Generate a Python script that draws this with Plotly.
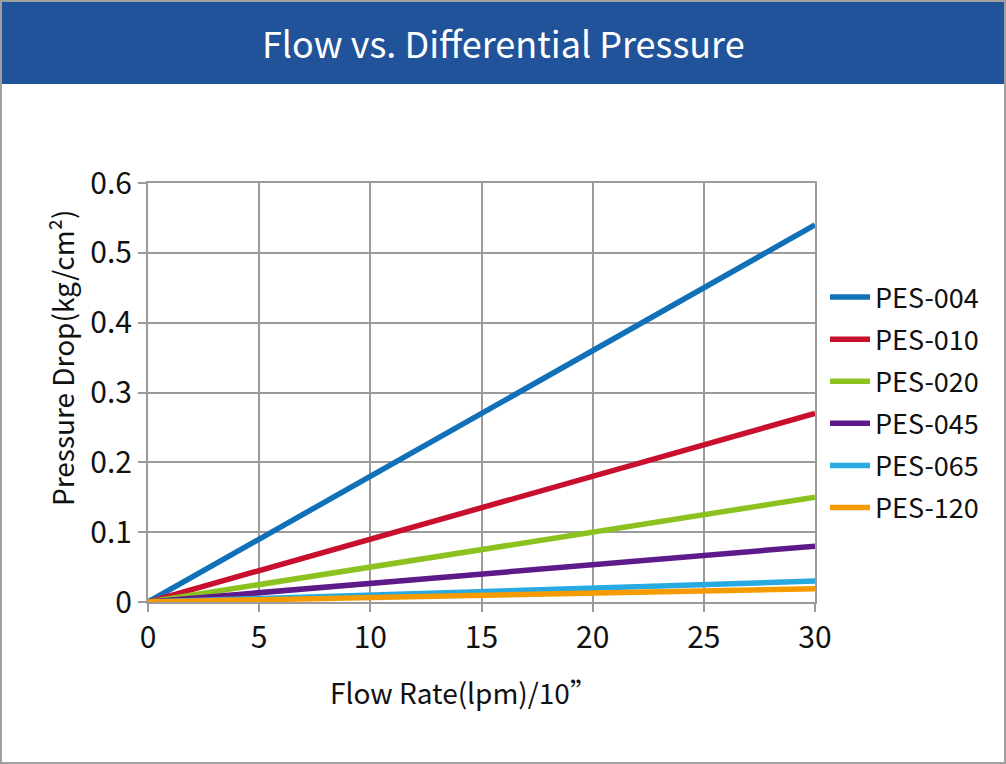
import plotly.graph_objects as go

# ---- data ----
flow = [0, 30]
series_names = ["PES-004", "PES-010", "PES-020", "PES-045", "PES-065", "PES-120"]
pes_004 = [0, 0.54]
pes_010 = [0, 0.27]
pes_020 = [0, 0.15]
pes_045 = [0, 0.08]
pes_065 = [0, 0.03]
pes_120 = [0, 0.019]
series_values = [pes_004, pes_010, pes_020, pes_045, pes_065, pes_120]
colors = ["#1070B8", "#C8102E", "#8CC21F", "#5F1A8A", "#27AAE1", "#F59B00"]
x_ticks = [0, 5, 10, 15, 20, 25, 30]
y_ticks = [0, 0.1, 0.2, 0.3, 0.4, 0.5, 0.6]
y_ticklabels = ["0", "0.1", "0.2", "0.3", "0.4", "0.5", "0.6"]

W, H = 1006, 764
L, R, T, B = 148, 815, 183, 602
FONT = "Noto Sans CJK TC"
GRID = "#9B9B9B"


def px2x(px):
    return (px - L) / (R - L)


def px2y(py):
    return (B - py) / (B - T)


fig = go.Figure()
for name, vals, col in zip(series_names, series_values, colors):
    fig.add_trace(go.Scatter(x=flow, y=vals, mode="lines", name=name,
                             legendgroup=name,
                             line=dict(color=col, width=5.5)))

axis_common = dict(showgrid=True, gridcolor=GRID, gridwidth=2,
                   showline=True, linecolor=GRID, linewidth=2, mirror=True,
                   ticks="outside", ticklen=8, tickwidth=2, tickcolor=GRID,
                   zeroline=False, tickfont=dict(family=FONT, size=30, color="#111111"))

fig.update_layout(
    width=W, height=H,
    margin=dict(l=L, r=W - R, t=T, b=H - B, pad=0),
    paper_bgcolor="white", plot_bgcolor="white",
    font=dict(family=FONT, color="#111111"),
    xaxis=dict(range=[0, 30], tickvals=x_ticks, **axis_common),
    yaxis=dict(range=[0, 0.6], tickvals=y_ticks, ticktext=y_ticklabels, **axis_common),
    legend=dict(x=px2x(825), y=px2y(273), xanchor="left", yanchor="top",
                font=dict(family=FONT, size=27, color="#111111"),
                bgcolor="rgba(0,0,0,0)", traceorder="grouped",
                tracegroupgap=4, itemwidth=40),
    shapes=[
        dict(type="rect", xref="paper", yref="paper",
             x0=px2x(0), x1=px2x(W), y0=px2y(84), y1=px2y(0),
             fillcolor="#21539A", line=dict(width=0), layer="below"),
        dict(type="rect", xref="paper", yref="paper",
             x0=px2x(1), x1=px2x(W - 1), y0=px2y(H - 1), y1=px2y(1),
             fillcolor="rgba(0,0,0,0)", line=dict(color="#A0A0A0", width=2)),
    ],
    annotations=[
        dict(text="Flow vs. Differential Pressure", xref="paper", yref="paper",
             x=px2x(503), y=px2y(42), showarrow=False, xanchor="center", yanchor="middle",
             font=dict(family=FONT, size=36, color="white")),
        dict(text="Pressure Drop(kg/cm²)", xref="paper", yref="paper",
             x=px2x(62), y=px2y(357), showarrow=False, textangle=-90,
             xanchor="center", yanchor="middle",
             font=dict(family=FONT, size=28, color="#111111")),
        dict(text="Flow Rate(lpm)/10”", xref="paper", yref="paper",
             x=px2x(464), y=px2y(692), showarrow=False,
             xanchor="center", yanchor="middle",
             font=dict(family=FONT, size=28, color="#111111")),
    ],
)

fig.write_html("out.html", config={"displayModeBar": False},
               post_script="document.body.style.margin='0';")
